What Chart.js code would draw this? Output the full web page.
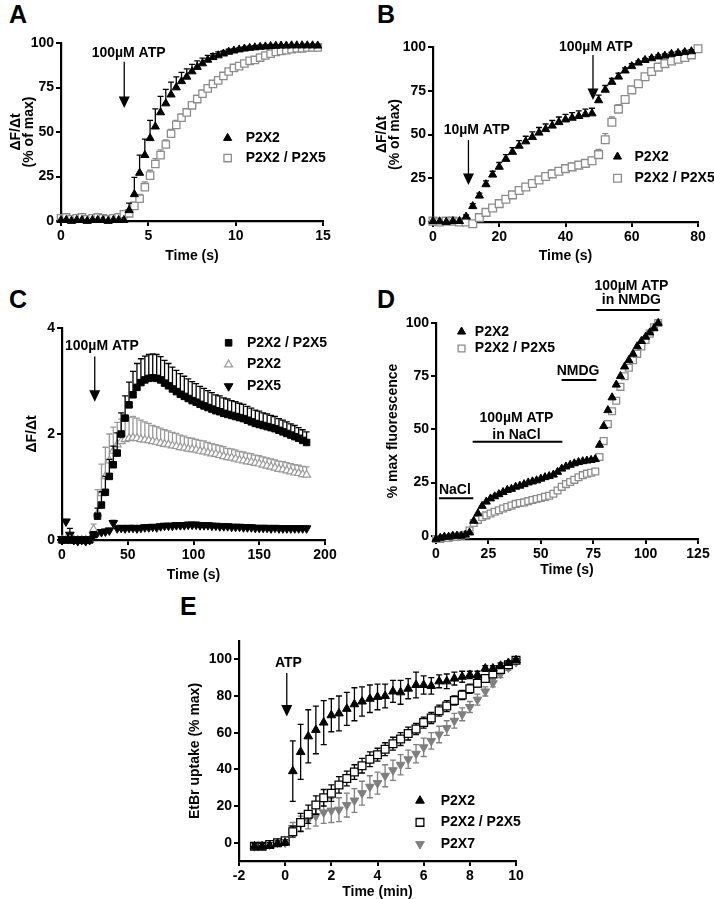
<!DOCTYPE html>
<html>
<head>
<meta charset="utf-8">
<script src="https://cdn.jsdelivr.net/npm/chart.js"></script>
<style>
  body { margin: 0; width: 714px; height: 899px; overflow: hidden; background: #fff; position: relative; font-family: "Liberation Sans", Arial, sans-serif; }
  canvas { position: absolute; }
  .tag { position: absolute; font-weight: bold; font-size: 25px; line-height: 25px; color: #000; }
</style>
</head>
<body>
<div class="tag" style="left:9px;top:2px">A</div>
<div class="tag" style="left:377px;top:2px">B</div>
<div class="tag" style="left:9px;top:287px">C</div>
<div class="tag" style="left:377px;top:287px">D</div>
<div class="tag" style="left:180px;top:594px">E</div>

<canvas id="chartA" width="355" height="265" style="left:0;top:0"></canvas>
<canvas id="chartB" width="359" height="265" style="left:355px;top:0"></canvas>
<canvas id="chartC" width="355" height="290" style="left:0;top:300px"></canvas>
<canvas id="chartD" width="359" height="320" style="left:355px;top:270px"></canvas>
<canvas id="chartE" width="370" height="301" style="left:170px;top:600px"></canvas>

<script>
// ---------- panel A (time in s, % of max) ----------
const timeA = [0,0.3,0.6,0.9,1.2,1.5,1.8,2.1,2.4,2.7,3,3.3,3.6,3.9,4.2,4.5,4.8,5.1,5.4,5.7,6,6.3,6.6,6.9,7.2,7.5,7.8,8.1,8.4,8.7,9,9.3,9.6,9.9,10.2,10.5,10.8,11.1,11.4,11.7,12,12.3,12.6,12.9,13.2,13.5,13.8,14.1,14.4,14.7];
const p2x2A = [0.5,0.5,0,0.5,0.5,0,0.5,0.5,0.5,0,0.5,0.5,0.5,6,15,27,37,46.5,53,61,66,71,75,78.5,81,84,86.5,88.5,90.5,92,93,94,95,95.7,96.3,96.8,97.2,97.5,97.8,98,98.2,98.4,98.5,98.5,98.6,98.6,98.6,98.6,98.6,98.5];
const p2x2A_sem = [0,0,0,0,0,0,0,0,0,0,0,0,0,4,9.5,10,9,10,10,9,8,7,6,5,4.5,4,3.5,3,2.5,2,2,1.5,1.5,1,1,1,1,1,1,1,1,0.5,0.5,0.5,0.5,0.5,0.5,0.5,0.5,0.5];
const hetA = [1.5,2,1,1.5,2,1,1.5,2,1.5,1,1.5,2,3.8,4.3,8.5,12.5,19,25.5,32,37,43,49,54,58,61,65,68.5,71.5,74.5,77,79,81.5,84,86,87,88.5,90,90.5,91.8,93,94,95,95.5,96,96.5,97,97,97.5,97.5,97.5];
const hetA_sem = [0,0,0,0,0,0,0,0,0,0,0,0,1,1,2,2.5,3,3,3,3,2.5,2.5,2.5,2,2,2,2,2,1.5,1.5,1.5,1.5,1.5,1,1,1,1,1,1,1,1,1,1,1,1,1,1,1,1,1];
const ticksA_x = [0,5,10,15];
const ticksA_y = [0,25,50,75,100];

// ---------- panel B ----------
const timeB = [0,2,4,6,8,10,12,14,16,18,20,22,24,26,28,30,32,34,36,38,40,42,44,46,48,50,52,54,56,58,60,62,64,66,68,70,72,74,76,78,80];
const p2x2B = [0.5,0.3,0,0.5,0.5,3,9,15,21.5,27,31.5,36,40,43.5,46,48.5,51,53,55,57,58.5,59.5,60.5,61.5,62,69.5,75.5,80,83,86.5,89,91,92.5,93.5,94.5,95,96,96.5,97,97.5,null];
const p2x2B_sem = [0,0,0,0,0,1,1.5,1.5,2,2,2.5,2.5,2.5,3,3,3,3,3,3,3,3,3,3,3,3,3,2.5,2,2,1.5,1.5,1,1,1,1,1,1,1,1,1,0];
const hetB = [0.5,0,0.5,0.5,0,0,-1,2.5,5.5,8,10.5,13,15.5,18,20,22,24,26,27.5,29,30.5,31.5,32.5,33.5,35,38.5,47,57,64.5,70,75.5,79,83,86,88.5,90.5,92,93,94,95.5,99];
const hetB_sem = [0,0,0,0,0,0,0.5,1,1,1,1,1.5,1.5,1.5,1.5,1.5,2,2,2,2,2,2,2,2,2,3,3.5,3,2.5,2,1.5,1.5,1.5,1.5,1,1,1,1,1,1,1];
const ticksB_x = [0,20,40,60,80];
const ticksB_y = [0,25,50,75,100];

// ---------- panel C ----------
const timeC = [0,3,6,9,12,15,18,21,24,27,30,33,36,39,42,45,48,51,54,57,60,63,66,69,72,75,78,81,84,87,90,93,96,99,102,105,108,111,114,117,120,123,126,129,132,135,138,141,144,147,150,153,156,159,162,165,168,171,174,177,180,183,186];
const hetC = [0,0,0,0,0,0,0,0,
  0.1,0.45,0.66,0.9,1.2,1.42,1.64,2.0,2.3,2.55,
  2.74,2.88,2.97,3.02,3.05,3.06,3.05,3.02,2.96,2.91,
  2.85,2.8,2.75,2.71,2.67,2.63,2.6,2.56,2.53,2.5,
  2.47,2.44,2.42,2.39,2.37,2.35,2.33,2.31,2.29,2.26,
  2.23,2.2,2.18,2.16,2.14,2.12,2.1,2.07,2.04,2.01,
  1.98,1.95,1.92,1.88,1.84];
const hetC_sem = [0.02,0.02,0.02,0.02,0.02,0.02,0.02,0.02,
  0.05,0.15,0.25,0.3,0.32,0.35,0.38,0.4,0.42,0.43,
  0.44,0.45,0.45,0.45,0.45,0.45,0.45,0.44,0.43,0.42,
  0.41,0.4,0.39,0.38,0.37,0.36,0.35,0.34,0.33,0.32,
  0.31,0.3,0.3,0.29,0.29,0.28,0.28,0.27,0.27,0.26,
  0.26,0.25,0.25,0.24,0.24,0.23,0.23,0.22,0.22,0.22,
  0.21,0.21,0.2,0.2,0.2];
const p2x2C = [0,0,0,0,0,0,0,0,
  0.2,0.5,0.88,1.2,1.5,1.68,1.8,1.86,1.9,1.92,1.93,1.92,
  1.9,1.89,1.88,1.86,1.85,1.83,1.81,1.8,1.78,1.77,
  1.75,1.74,1.72,1.71,1.7,1.68,1.67,1.65,1.63,1.62,
  1.6,1.58,1.56,1.55,1.53,1.51,1.5,1.48,1.47,1.45,
  1.44,1.42,1.4,1.38,1.36,1.34,1.33,1.31,1.29,1.27,
  1.26,1.24,1.23];
const p2x2C_sem = [0,0,0,0,0,0,0,0,
  0.1,0.45,0.55,0.55,0.5,0.45,0.42,0.42,0.42,0.4,0.4,0.38,
  0.36,0.34,0.32,0.3,0.29,0.28,0.27,0.26,0.25,0.24,
  0.23,0.22,0.21,0.21,0.2,0.2,0.2,0.19,0.19,0.18,
  0.18,0.18,0.17,0.17,0.17,0.16,0.16,0.16,0.16,0.15,
  0.15,0.15,0.15,0.15,0.15,0.15,0.15,0.15,0.15,0.15,
  0.15,0.15,0.15];
const p2x5C = [0.02,0.35,0.1,0,-0.02,0,-0.02,0,
  0.1,0.14,0.15,0.16,0.18,0.32,0.22,0.23,0.22,0.23,0.23,0.22,
  0.23,0.24,0.24,0.25,0.24,0.26,0.27,0.27,0.27,0.28,
  0.28,0.28,0.29,0.29,0.29,0.28,0.28,0.28,0.27,0.27,
  0.26,0.26,0.26,0.25,0.25,0.25,0.24,0.24,0.24,0.23,
  0.23,0.23,0.23,0.22,0.23,0.22,0.22,0.22,0.22,0.22,
  0.22,0.22,0.22];
const p2x5C_sem = [0.02,0,0.12,0.02,0.02,0.02,0.02,0.02,
  0.04,0.04,0.04,0.04,0.04,0.05,0.04,0.04,0.04,0.04,0.04,0.04,
  0.04,0.04,0.04,0.04,0.04,0.04,0.04,0.04,0.04,0.04,
  0.04,0.04,0.04,0.04,0.04,0.04,0.04,0.04,0.04,0.04,
  0.04,0.04,0.04,0.04,0.04,0.04,0.04,0.04,0.04,0.04,
  0.04,0.04,0.04,0.04,0.04,0.04,0.04,0.04,0.04,0.04,
  0.04,0.04,0.04];
const ticksC_x = [0,50,100,150,200];
const ticksC_y = [0,2,4];

// ---------- panel D ----------
const timeD = [0,2,4,6,8,10,12,14,16,18,20,22,24,26,28,30,32,34,36,38,40,42,44,46,48,50,52,54,56,58,60,62,64,66,68,70,72,74,76,78,80,82,84,86,88,90,92,94,96,98,100,102,104,106];
const p2x2D = [-1.5,-1,-0.5,-0.5,0,0,0,0.5,
  1.5,7,10.5,14,16,17.5,18.5,19.5,20.5,21.5,
  22,23,23.5,24.2,25,25.5,26,26.8,27.5,28,
  28.7,30,31.5,32.5,33.3,34,34.6,35,35.3,35.6,
  36,42.7,51.5,59,65,71,75,79.5,82.5,85.5,
  89,91.5,93.5,95.5,97.5,100];
const hetD = [-1.5,-1.5,-1,-1,-0.5,-0.5,0,0.5,
  2.5,6,7.5,8.8,9.6,10.5,11.3,12,12.8,13.5,
  14.2,15,15.4,15.7,16.3,16.8,17.3,17.8,18.3,18.8,
  19.8,21.3,23,24.3,25.3,26.3,27.5,28.5,29.2,29.6,
  30.2,37,44.5,52.5,58.5,63.5,70,75,79,82.5,
  85.5,89,92,95,98,100];
const ticksD_x = [0,25,50,75,100,125];
const ticksD_y = [0,25,50,75,100];

// ---------- panel E (time in min) ----------
const timeE = [-1.33,-1,-0.67,-0.33,0,0.33,0.67,1,1.33,1.67,2,2.33,2.67,3,3.33,3.67,4,4.33,4.67,5,5.33,5.67,6,6.33,6.67,7,7.33,7.67,8,8.33,8.67,9,9.33,9.67,10];
const p2x2E = [-2,-2,-1.5,-0.5,0,39,49.5,58,61.5,65.5,69.5,70.5,73,75.5,77,78.5,79.5,80,82.5,82,84,86,86,85.5,88,88,89.5,90.5,91.5,91.5,95,95,96.5,98,99.5];
const p2x2E_sem = [1.5,1.5,1.5,1.5,1.5,16.5,15,14.5,13,12,9,9.5,9,9,8,7.5,7,6.5,6,6.5,5.5,7,5,4.5,3.5,4,3.5,3,2,2,1.5,1.5,1.5,1,1];
const hetE = [-2,-2,-1,0,1,6,11,15.5,20.5,24.5,27,31.5,35,38.5,42,45.5,48,51,54,56.5,59.5,62,65.5,68,72,74.5,77.5,80.5,84,87,89.5,92,94.5,97,99.5];
const hetE_sem = [1.5,1.5,1.5,1.5,1.5,3,5,5,5,4.5,4.5,4.5,4,4,4,4,3.5,3.5,3.5,3.5,3.5,3,3,3,3,3,2.5,2.5,2.5,2,2,2,1.5,1,1];
const p2x7E = [-2,-1.5,-1,0,0,8,10.5,12.5,14.5,16.5,17.5,18,20.5,23,27,30.5,32.5,36.5,39.5,42.5,45.5,48.5,52,55.5,59,62.5,66.5,70,74,78,82.5,87,92,95.5,98.5];
const p2x7E_sem = [1,1,1,1,1,3,4,5,5.5,6,6.5,6.5,6.5,6.5,6.5,6,6,6,5.5,5.5,5,5,5,4.5,4.5,4,4,3.5,3,3,2.5,2,2,1.5,1];
const ticksE_x = [-2,0,2,4,6,8,10];
const ticksE_y = [0,20,40,60,80,100];

// ---------- shared setup ----------
Chart.defaults.font.family = '"Liberation Sans", Arial, sans-serif';
Chart.defaults.font.size = 14;
Chart.defaults.font.weight = 'bold';
Chart.defaults.color = '#000';
const FONT = 'bold 14px "Liberation Sans", Arial, sans-serif';

function points(xs, ys, es) {
  return xs.map((x, i) => ({ x: x, y: ys[i], e: es ? es[i] : 0 }));
}

// marker looks
const blackTri = { pointStyle: 'triangle', pointRadius: 4.7, pointRotation: 0, pointBackgroundColor: '#000', pointBorderColor: '#000', pointBorderWidth: 1 };
const greySquare = { pointStyle: 'rect', pointRadius: 5.2, pointRotation: 0, pointBackgroundColor: '#fff', pointBorderColor: '#8c8c8c', pointBorderWidth: 1.3 };

function series(label, data, look, errColor, errBoth) {
  return Object.assign({ label: label, data: data, clip: false, errColor: errColor, errBoth: !!errBoth }, look);
}

function axis(a, horizontal) {
  return {
    type: 'linear',
    min: a.min,
    max: a.max,
    afterBuildTicks: s => { s.ticks = a.ticks.map(v => ({ value: v })); },
    afterFit: s => { if (horizontal) s.height = a.size; else s.width = a.size; },
    grid: { drawOnChartArea: false, color: '#000', lineWidth: 2, tickLength: 5 },
    border: { color: '#000', width: 2.2 },
    ticks: { padding: 2, color: '#000', font: { size: 14, weight: 'bold' } },
    title: {
      display: true, text: a.title, color: '#000',
      font: { size: 14, weight: 'bold', lineHeight: horizontal ? 1.2 : 0.95 },
      padding: horizontal ? { top: 0, bottom: a.pad } : { top: a.pad, bottom: 0 }
    }
  };
}

// error bars (through the scales), arrows, bars, labels and keys
function extras(notes, key) {
  return {
    id: 'extras',
    beforeDatasetDraw(chart, args) {
      const ds = chart.data.datasets[args.index];
      if (!ds.errColor) return;
      const ctx = chart.ctx, sx = chart.scales.x, sy = chart.scales.y;
      ctx.save();
      ctx.strokeStyle = ds.errColor;
      ctx.lineWidth = 1.3;
      ctx.beginPath();
      ds.data.forEach(p => {
        if (p.y === null || !p.e) return;
        const px = sx.getPixelForValue(p.x);
        const top = sy.getPixelForValue(p.y + p.e);
        const low = sy.getPixelForValue(ds.errBoth ? p.y - p.e : p.y);
        ctx.moveTo(px, low); ctx.lineTo(px, top);
        ctx.moveTo(px - 3, top); ctx.lineTo(px + 3, top);
        if (ds.errBoth) { ctx.moveTo(px - 3, low); ctx.lineTo(px + 3, low); }
      });
      ctx.stroke();
      ctx.restore();
    },
    afterDraw(chart) {
      const ctx = chart.ctx, sx = chart.scales.x, sy = chart.scales.y;
      ctx.save();
      ctx.fillStyle = '#000';
      ctx.strokeStyle = '#000';
      ctx.font = FONT;
      ctx.textAlign = 'center';
      ctx.textBaseline = 'middle';
      notes.forEach(n => {
        if (n.text) ctx.fillText(n.text, sx.getPixelForValue(n.x), sy.getPixelForValue(n.y));
        if (n.arrow) {
          const x = sx.getPixelForValue(n.arrow[0]);
          const y1 = sy.getPixelForValue(n.arrow[1]);
          const y2 = sy.getPixelForValue(n.arrow[2]);
          ctx.lineWidth = 1.3;
          ctx.beginPath(); ctx.moveTo(x, y1); ctx.lineTo(x, y2 - 10); ctx.stroke();
          ctx.beginPath(); ctx.moveTo(x - 5.5, y2 - 11.5); ctx.lineTo(x + 5.5, y2 - 11.5); ctx.lineTo(x, y2); ctx.closePath(); ctx.fill();
        }
        if (n.bar) {
          const y = sy.getPixelForValue(n.bar[2]);
          ctx.lineWidth = 2;
          ctx.beginPath(); ctx.moveTo(sx.getPixelForValue(n.bar[0]), y); ctx.lineTo(sx.getPixelForValue(n.bar[1]), y); ctx.stroke();
        }
      });
      if (key) {
        const kx = sx.getPixelForValue(key.x);
        let ky = sy.getPixelForValue(key.y);
        key.items.forEach(item => {
          const ds = chart.data.datasets[item[0]];
          ctx.fillStyle = ds.pointBackgroundColor;
          ctx.strokeStyle = ds.pointBorderColor;
          ctx.lineWidth = ds.pointBorderWidth;
          Chart.helpers.drawPoint(ctx, { pointStyle: ds.pointStyle, radius: ds.pointRadius, rotation: ds.pointRotation, borderWidth: ds.pointBorderWidth }, kx, ky);
          ctx.fillStyle = '#000';
          ctx.textAlign = 'left';
          ctx.fillText(item[1], kx + key.gap, ky);
          ky += key.dy;
        });
      }
      ctx.restore();
    }
  };
}

function panel(id, frame, datasets, notes, key) {
  return new Chart(document.getElementById(id), {
    type: 'scatter',
    data: { datasets: datasets },
    options: {
      responsive: false,
      animation: false,
      devicePixelRatio: 1,
      events: [],
      layout: { padding: { left: 0, top: frame.top, right: frame.right, bottom: 0 } },
      plugins: { legend: { display: false }, tooltip: { enabled: false } },
      scales: { x: axis(frame.x, true), y: axis(frame.y, false) }
    },
    plugins: [extras(notes, key)]
  });
}

// ---------- A ----------
panel('chartA',
  { top: 43, right: 32,
    x: { min: 0, max: 15, ticks: ticksA_x, title: 'Time (s)', size: 44, pad: 0.9 },
    y: { min: 0, max: 100, ticks: ticksA_y, title: ['ΔF/Δt', '(% of max)'], size: 61, pad: 9.3 } },
  [ series('P2X2', points(timeA, p2x2A, p2x2A_sem), blackTri, '#000'),
    series('P2X2 / P2X5', points(timeA, hetA, hetA_sem), greySquare, '#8c8c8c') ],
  [ { text: '100µM ATP', x: 3.87, y: 94.2 }, { arrow: [3.62, 89.4, 63.5] } ],
  { x: 9.54, y: 46.6, dy: 20, gap: 18, items: [[0, 'P2X2'], [1, 'P2X2 / P2X5']] });

// ---------- B ----------
panel('chartB',
  { top: 47, right: 16,
    x: { min: 0, max: 80, ticks: ticksB_x, title: 'Time (s)', size: 43, pad: 0.9 },
    y: { min: 0, max: 100, ticks: ticksB_y, title: ['ΔF/Δt', '(% of max)'], size: 78, pad: 20.6 } },
  [ series('P2X2', points(timeB, p2x2B, p2x2B_sem), blackTri, '#000'),
    series('P2X2 / P2X5', points(timeB, hetB, hetB_sem), Object.assign({}, greySquare, { pointRadius: 5.5 }), '#8c8c8c') ],
  [ { text: '10µM ATP', x: 13.2, y: 52.6 }, { arrow: [10.7, 46.9, 21.1] },
    { text: '100µM ATP', x: 49.2, y: 100 }, { arrow: [48.3, 95.4, 69.7] } ],
  { x: 55.7, y: 37.3, dy: 21.6, gap: 17, items: [[0, 'P2X2'], [1, 'P2X2 / P2X5']] });

// ---------- C ----------
panel('chartC',
  { top: 28, right: 30,
    x: { min: 0, max: 200, ticks: ticksC_x, title: 'Time (s)', size: 50, pad: 6.9 },
    y: { min: 0, max: 4, ticks: ticksC_y, title: 'ΔF/Δt', size: 62, pad: 25.3 } },
  [ series('P2X2 / P2X5', points(timeC, hetC, hetC_sem),
      { pointStyle: 'rect', pointRadius: 4.6, pointRotation: 0, pointBackgroundColor: '#000', pointBorderColor: '#000', pointBorderWidth: 1 }, '#000'),
    series('P2X2', points(timeC, p2x2C, p2x2C_sem),
      { pointStyle: 'triangle', pointRadius: 4.6, pointRotation: 0, pointBackgroundColor: '#fff', pointBorderColor: '#9a9a9a', pointBorderWidth: 1.2 }, '#9a9a9a'),
    series('P2X5', points(timeC, p2x5C, p2x5C_sem),
      { pointStyle: 'triangle', pointRadius: 5, pointRotation: 180, pointBackgroundColor: '#000', pointBorderColor: '#000', pointBorderWidth: 1 }, '#000') ],
  [ { text: '100µM ATP', x: 30.4, y: 3.65 }, { arrow: [24.9, 3.46, 2.61] } ],
  { x: 126.7, y: 3.72, dy: 21.7, gap: 18.3, items: [[0, 'P2X2 / P2X5'], [1, 'P2X2'], [2, 'P2X5']] });

// ---------- D ----------
panel('chartD',
  { top: 53, right: 16,
    x: { min: 0, max: 125, ticks: ticksD_x, title: 'Time (s)', size: 51, pad: 11.9 },
    y: { min: -1.5, max: 100, ticks: ticksD_y, title: '% max fluorescence', size: 81, pad: 31.9 } },
  [ series('P2X2', points(timeD, p2x2D), blackTri, null),
    series('P2X2 / P2X5', points(timeD, hetD), Object.assign({}, greySquare, { pointRadius: 4.8 }), null) ],
  [ { text: 'NaCl', x: 9, y: 21.5 }, { bar: [1.4, 17.8, 17.6] },
    { text: '100µM ATP', x: 38.4, y: 55.2 }, { text: 'in NaCl', x: 38.4, y: 47.4 }, { bar: [17.5, 60.3, 44.2] },
    { text: 'NMDG', x: 67.8, y: 77.4 }, { bar: [59.9, 76.5, 73.2] },
    { text: '100µM ATP', x: 93.2, y: 117.4 }, { text: 'in NMDG', x: 93.2, y: 110.8 }, { bar: [76.5, 106.7, 106.1] } ],
  { x: 12.2, y: 95.9, dy: 16.7, gap: 13.3, items: [[0, 'P2X2'], [1, 'P2X2 / P2X5']] });

// ---------- E ----------
panel('chartE',
  { top: 41, right: 24,
    x: { min: -2, max: 10, ticks: ticksE_x, title: 'Time (min)', size: 40, pad: 0.9 },
    y: { min: -10, max: 110, ticks: ticksE_y, title: 'EtBr uptake (% max)', size: 69, pad: 18.6 } },
  [ series('P2X2', points(timeE, p2x2E, p2x2E_sem), Object.assign({}, blackTri, { pointRadius: 5 }), '#000', true),
    series('P2X2 / P2X5', points(timeE, hetE, hetE_sem),
      { pointStyle: 'rect', pointRadius: 5.5, pointRotation: 0, pointBackgroundColor: '#fff', pointBorderColor: '#000', pointBorderWidth: 1.3 }, '#000', true),
    series('P2X7', points(timeE, p2x7E, p2x7E_sem),
      { pointStyle: 'triangle', pointRadius: 5, pointRotation: 180, pointBackgroundColor: '#7f7f7f', pointBorderColor: '#7f7f7f', pointBorderWidth: 1 }, '#7f7f7f', true) ],
  [ { text: 'ATP', x: 0.14, y: 97.9 }, { arrow: [0.07, 92.6, 68.8] } ],
  { x: 5.84, y: 22.9, dy: 21.7, gap: 20.7, items: [[0, 'P2X2'], [1, 'P2X2 / P2X5'], [2, 'P2X7']] });
</script>
</body>
</html>
